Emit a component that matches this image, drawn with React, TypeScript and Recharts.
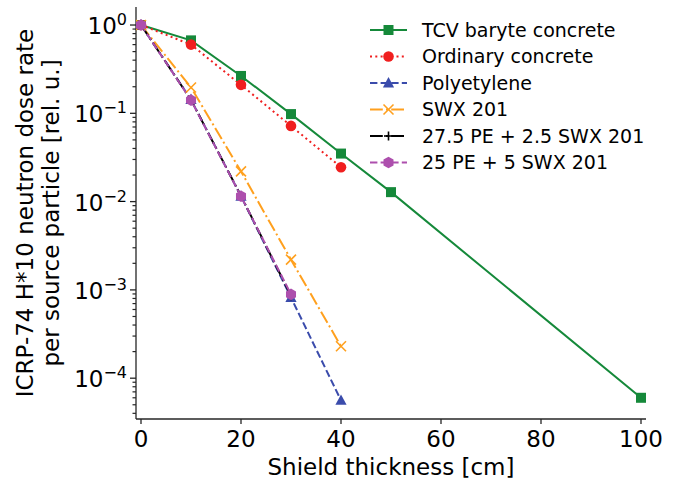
import React from "react";
import { LineChart, Line, XAxis, YAxis, Legend } from "recharts";

const FONT = "'DejaVu Sans', 'Liberation Sans', sans-serif";
const AXIS = "#262626";

// thickness in cm, dose in rel. units
const tcvThickness = [0, 10, 20, 30, 40, 50, 100];
const tcvDose = [1, 0.67, 0.265, 0.098, 0.035, 0.0128, 6.0e-5];
const concreteThickness = [0, 10, 20, 30, 40];
const ordinaryDose = [1, 0.6, 0.21, 0.072, 0.0245];
const polyDose = [1, 0.143, 0.0115, 8.2e-4, 5.6e-5];
const swxDose = [1, 0.196, 0.022, 0.0022, 2.3e-4];
const mixThickness = [0, 10, 20, 30];
const mixADose = [1, 0.142, 0.0116, 8.6e-4];
const mixBDose = [1, 0.141, 0.0115, 8.9e-4];

const xTicks = [0, 20, 40, 60, 80, 100];
const yMajor = [1, 0.1, 0.01, 0.001, 0.0001];
const yMinorFactors = [2, 3, 4, 5, 6, 7, 8, 9];
const yDecades = [1e-5, 1e-4, 1e-3, 1e-2, 1e-1];
const X_DOMAIN = [-1, 101];
const Y_DOMAIN = [3.45e-5, 1.6];

const yMinor = yDecades
  .flatMap((d) => yMinorFactors.map((f) => f * d))
  .filter((v) => v > Y_DOMAIN[0] && v < Y_DOMAIN[1]);

const series = [
  { name: "TCV baryte concrete", x: tcvThickness, y: tcvDose, color: "#15893a", dash: undefined, marker: "square" },
  { name: "Ordinary concrete", x: concreteThickness, y: ordinaryDose, color: "#f01f1f", dash: "2 3.3", marker: "circle" },
  { name: "Polyetylene", x: concreteThickness, y: polyDose, color: "#3a4bab", dash: "7.4 3.2", marker: "triangle" },
  { name: "SWX 201", x: concreteThickness, y: swxDose, color: "#ffa01e", dash: "12.8 3.2 2 3.2", marker: "x" },
  { name: "27.5 PE + 2.5 SWX 201", x: mixThickness, y: mixADose, color: "#000000", dash: "12.8 3.2 2 3.2", marker: "plus" },
  { name: "25 PE + 5 SWX 201", x: mixThickness, y: mixBDose, color: "#ad4fad", dash: "7.4 3.2", marker: "hexagon" },
];

function Marker({ shape, cx, cy, color }: { shape: string; cx: number; cy: number; color: string }) {
  if (cx == null || cy == null) return null;
  switch (shape) {
    case "square":
      return <rect x={cx - 5} y={cy - 5} width={10} height={10} fill={color} />;
    case "circle":
      return <circle cx={cx} cy={cy} r={5.3} fill={color} />;
    case "triangle":
      return <polygon points={`${cx},${cy - 6} ${cx - 5.6},${cy + 4.4} ${cx + 5.6},${cy + 4.4}`} fill={color} />;
    case "x":
      return (
        <g stroke={color} strokeWidth={1.6}>
          <line x1={cx - 5} y1={cy - 5} x2={cx + 5} y2={cy + 5} />
          <line x1={cx - 5} y1={cy + 5} x2={cx + 5} y2={cy - 5} />
        </g>
      );
    case "plus":
      return (
        <g stroke={color} strokeWidth={1.6}>
          <line x1={cx - 4.5} y1={cy} x2={cx + 4.5} y2={cy} />
          <line x1={cx} y1={cy - 4.5} x2={cx} y2={cy + 4.5} />
        </g>
      );
    case "hexagon": {
      const r = 5.8;
      const pts = [0, 1, 2, 3, 4, 5]
        .map((k) => {
          const a = -Math.PI / 2 + (k * Math.PI) / 3;
          return `${cx + r * Math.cos(a)},${cy + r * Math.sin(a)}`;
        })
        .join(" ");
      return <polygon points={pts} fill={color} />;
    }
    default:
      return null;
  }
}

function LogTick(props: any) {
  const { x, y, payload } = props;
  const v = payload.value;
  const lg = Math.log10(v);
  const exp = Math.round(lg);
  const major = Math.abs(lg - exp) < 1e-6;
  if (!major) {
    return <line x1={x - 3.5} x2={x} y1={y} y2={y} stroke={AXIS} strokeWidth={1.2} />;
  }
  return (
    <g>
      <line x1={x - 6} x2={x} y1={y} y2={y} stroke={AXIS} strokeWidth={1.3} />
      <text x={x - 9} y={y + 9} textAnchor="end" fontSize={23} fontFamily={FONT} fill="#000">
        10
        <tspan dy={-9} fontSize={16}>
          {exp === 0 ? "0" : `\u2212${Math.abs(exp)}`}
        </tspan>
      </text>
    </g>
  );
}

function YLabel(props: any) {
  const vb = props.viewBox;
  const cy = 7 + 206;
  return (
    <g fontFamily={FONT} fontSize={23} fill="#000">
      <text x={vb.x + 33} y={cy} textAnchor="middle" transform={`rotate(-90 ${vb.x + 33} ${cy})`}>
        ICRP-74 H*10 neutron dose rate
      </text>
      <text x={vb.x + 59} y={cy} textAnchor="middle" transform={`rotate(-90 ${vb.x + 59} ${cy})`}>
        per source particle [rel. u.]
      </text>
    </g>
  );
}

function XLabel(props: any) {
  const vb = props.viewBox;
  return (
    <text x={vb.x + vb.width / 2} y={vb.y + 56} textAnchor="middle" fontFamily={FONT} fontSize={23} fill="#000">
      Shield thickness [cm]
    </text>
  );
}

function LegendBox() {
  return (
    <svg width={310} height={175} style={{ display: "block" }}>
      {series.map((s, i) => {
        const cy = 16 + i * 26.5;
        return (
          <g key={s.name}>
            <line x1={10} x2={47} y1={cy} y2={cy} stroke={s.color} strokeWidth={2} strokeDasharray={s.dash} />
            <Marker shape={s.marker} cx={28.5} cy={cy} color={s.color} />
            <text x={62} y={cy + 6.8} fontSize={19} fontFamily={FONT} fill="#000">
              {s.name}
            </text>
          </g>
        );
      })}
    </svg>
  );
}

export default function App() {
  return (
    <div style={{ position: "absolute", left: 0, top: 0, background: "#fff", fontFamily: FONT }}>
      <LineChart width={681} height={485} margin={{ top: 7, right: 35, bottom: 0, left: 0 }}>
        <XAxis
          dataKey="t"
          type="number"
          domain={X_DOMAIN}
          allowDataOverflow
          ticks={xTicks}
          interval={0}
          height={66}
          tickSize={5}
          tickMargin={7}
          stroke={AXIS}
          axisLine={{ stroke: AXIS, strokeWidth: 1.3 }}
          tickLine={{ stroke: AXIS, strokeWidth: 1.3 }}
          tick={{ fontSize: 23, fill: "#000", fontFamily: FONT }}
          label={{ content: XLabel }}
        />
        <XAxis xAxisId="top" orientation="top" type="number" domain={[0, 1]} height={0} tick={false} tickLine={false} axisLine={{ stroke: AXIS, strokeWidth: 1.3 }} />
        <YAxis
          type="number"
          scale="log"
          domain={Y_DOMAIN}
          allowDataOverflow
          ticks={[...yMajor, ...yMinor]}
          interval={0}
          width={136}
          tickSize={0}
          tickMargin={0}
          tickLine={false}
          axisLine={{ stroke: AXIS, strokeWidth: 1.3 }}
          tick={<LogTick />}
          label={{ content: YLabel }}
        />
        <YAxis yAxisId="right" orientation="right" type="number" domain={[0, 1]} width={0} tick={false} tickLine={false} axisLine={{ stroke: AXIS, strokeWidth: 1.3 }} />
        {series.map((s) => (
          <Line
            key={s.name}
            name={s.name}
            data={s.x.map((t, i) => ({ t, v: s.y[i] }))}
            dataKey="v"
            type="linear"
            stroke={s.color}
            strokeWidth={2}
            strokeDasharray={s.dash}
            dot={(p: any) => <Marker key={`${s.name}-${p.index}`} shape={s.marker} cx={p.cx} cy={p.cy} color={s.color} />}
            activeDot={false}
            isAnimationActive={false}
          />
        ))}
        <Legend
          layout="vertical"
          align="center"
          verticalAlign="middle"
          content={() => <LegendBox />}
          wrapperStyle={{ left: 360, top: 14, width: 310, height: 175 }}
        />
      </LineChart>
    </div>
  );
}
